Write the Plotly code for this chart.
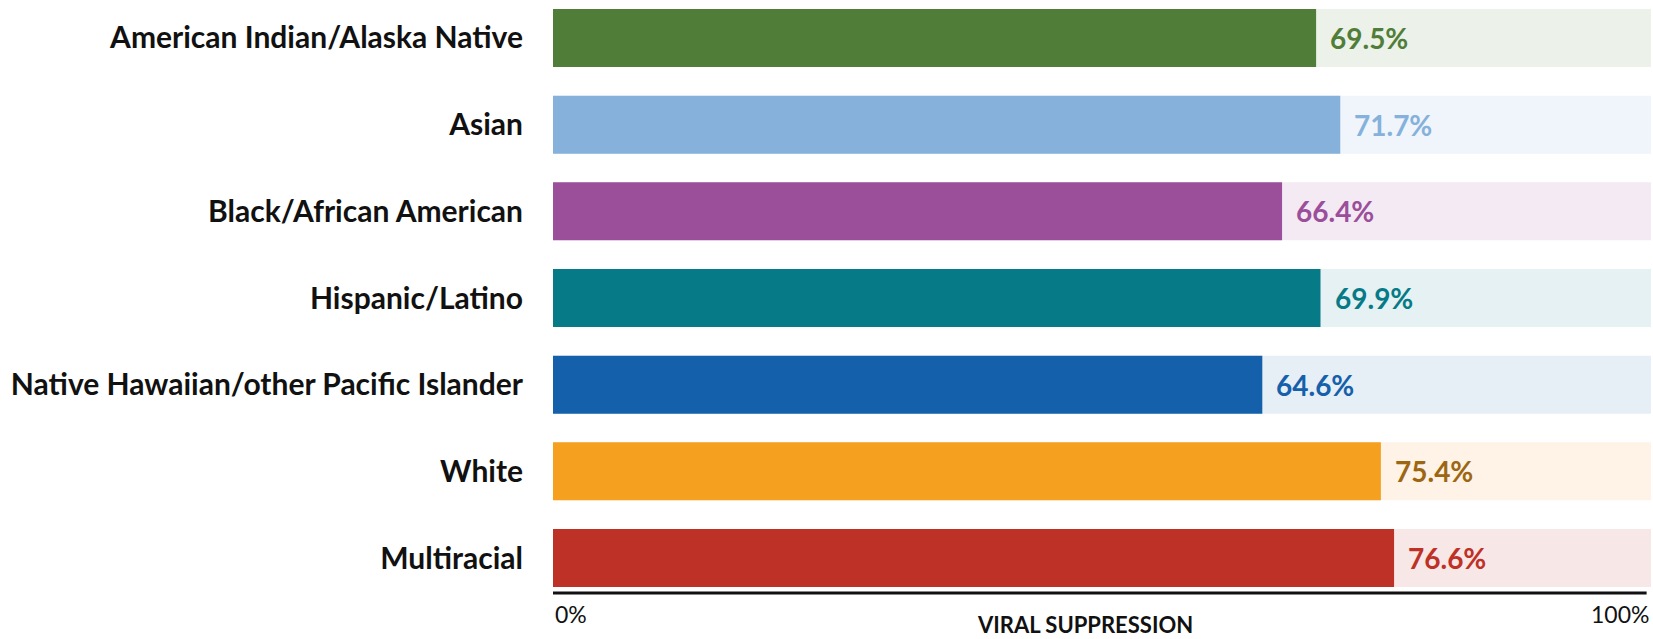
import plotly.graph_objects as go

categories = ["American Indian/Alaska Native", "Asian", "Black/African American",
              "Hispanic/Latino", "Native Hawaiian/other Pacific Islander", "White", "Multiracial"]
values = [69.5, 71.7, 66.4, 69.9, 64.6, 75.4, 76.6]
full_scale = [100, 100, 100, 100, 100, 100, 100]
bar_colors = ["#507D38", "#85B1DB", "#9B4F9A", "#067A87", "#1560AA", "#F5A01F", "#BE3126"]
bg_colors = ["#ECF1E9", "#EFF5FB", "#F3EAF3", "#E5F1F2", "#E6EEF6", "#FEF3E6", "#F7E7E6"]
text_colors = ["#507D38", "#85B1DB", "#9B4F9A", "#067A87", "#1560AA", "#9C6612", "#BE3126"]
x_tick_labels = ["0%", "100%"]
x_title = "VIRAL SUPPRESSION"

FONT = "Lato"
W, H = 1653, 639
ML, MR, MT, MB = 553, 2, 9, 52
bar_w = 0.669

fig = go.Figure()
fig.add_trace(go.Bar(y=categories, x=full_scale, orientation="h",
                     marker=dict(color=bg_colors, line=dict(width=0)),
                     width=bar_w, hoverinfo="skip", showlegend=False))
fig.add_trace(go.Bar(y=categories, x=values, orientation="h",
                     marker=dict(color=bar_colors, line=dict(width=0)),
                     width=bar_w, showlegend=False))

for c, v, tc in zip(categories, values, text_colors):
    fig.add_annotation(x=v, y=c, xref="x", yref="y", text=f"<b>{v:.1f}%</b>",
                       showarrow=False, xanchor="left", yanchor="middle", xshift=12,
                       font=dict(family=FONT, size=28, color=tc))

# axis line
fig.add_shape(type="line", xref="x", yref="paper", x0=0, x1=99.6, y0=-0.0105, y1=-0.0105,
              line=dict(color="#111111", width=3))

fig.add_annotation(x=0, y=-0.047, xref="x", yref="paper", text=x_tick_labels[0],
                   showarrow=False, xanchor="left", yanchor="middle", xshift=0,
                   font=dict(family=FONT, size=23, color="#111111"))
fig.add_annotation(x=100, y=-0.047, xref="x", yref="paper", text=x_tick_labels[1],
                   showarrow=False, xanchor="right", yanchor="middle", xshift=0,
                   font=dict(family=FONT, size=23, color="#111111"))
fig.add_annotation(x=0.4845, y=-0.0895, xref="paper", yref="paper", text=f"<b>{x_title}</b>",
                   showarrow=False, xanchor="center", yanchor="bottom", borderpad=0,
                   font=dict(family=FONT, size=22, color="#111111"))

fig.update_layout(
    width=W, height=H,
    margin=dict(l=ML, r=MR, t=MT, b=MB, pad=0),
    barmode="overlay",
    plot_bgcolor="white", paper_bgcolor="white",
    xaxis=dict(range=[0, 100], showgrid=False, zeroline=False, showticklabels=False,
               showline=False, fixedrange=True),
    yaxis=dict(categoryorder="array", categoryarray=categories,
               range=[6 + bar_w / 2, -bar_w / 2], autorange=False,
               showgrid=False, zeroline=False, showline=False, ticks="",
               ticklabelstandoff=29,
               tickfont=dict(family=FONT, size=30, color="#111111", weight="bold")),
)

fig.write_html("out.html", config={"displayModeBar": False},
               post_script="document.body.style.margin='0';document.body.style.overflow='hidden';")
